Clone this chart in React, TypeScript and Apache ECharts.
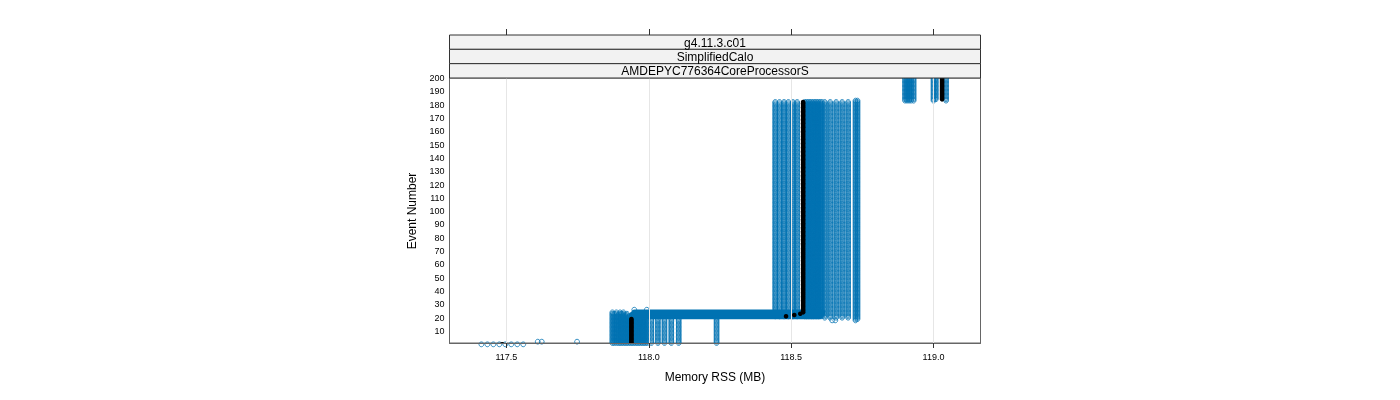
import React, { useEffect, useRef } from "react";
import * as echarts from "echarts";

// ---- axis / panel text ----
const xTicks = [117.5, 118.0, 118.5, 119.0];
const yTicks = [10, 20, 30, 40, 50, 60, 70, 80, 90, 100, 110, 120, 130, 140, 150, 160, 170, 180, 190, 200];
const stripLabels = ["g4.11.3.c01", "SimplifiedCalo", "AMDEPYC776364CoreProcessorS"];
const xTitle = "Memory RSS (MB)";
const yTitle = "Event Number";

// ---- data ----
// Each run: [memory RSS (MB), first event, last event] — constant memory over that event range
const lowRuns: [number, number, number][] = [
  [117.412, 0, 0], [117.433, 0, 0], [117.454, 0, 0], [117.475, 0, 0],
  [117.496, 0, 0], [117.517, 0, 0], [117.538, 0, 0], [117.559, 0, 0],
  [117.61, 2, 2], [117.624, 2, 2], [117.748, 2, 2],
];
const earlyRuns: [number, number, number][] = [
  [117.872, 1, 24], [117.878, 1, 23], [117.886, 1, 24], [117.893, 1, 22],
  [117.899, 1, 24], [117.905, 1, 23], [117.911, 1, 24], [117.917, 1, 22],
  [117.923, 1, 23], [117.929, 1, 21], [117.935, 1, 20], [117.941, 1, 20],
  [117.947, 1, 20], [117.953, 1, 20], [117.959, 1, 20], [117.965, 1, 20],
  [117.971, 1, 20], [117.977, 1, 20], [117.983, 1, 20], [117.989, 1, 20], [117.995, 1, 20],
  [118.009, 1, 19], [118.032, 1, 19], [118.055, 1, 19], [118.079, 1, 19], [118.105, 1, 19],
  [118.238, 1, 20],
  [117.949, 26, 26], [117.993, 26, 26],
];
const mainRuns: [number, number, number][] = [
  [118.444, 21, 182], [118.459, 21, 182], [118.475, 21, 182], [118.49, 21, 182],
  [118.506, 21, 182], [118.521, 21, 182],
  [118.548, 21, 182], [118.554, 21, 182], [118.56, 21, 182], [118.566, 21, 182],
  [118.572, 21, 182], [118.578, 21, 182], [118.584, 21, 182], [118.59, 21, 182],
  [118.596, 21, 182], [118.602, 21, 182], [118.608, 21, 182],
  [118.618, 20, 182], [118.637, 20, 182], [118.658, 20, 182], [118.679, 20, 182], [118.7, 20, 182],
  [118.726, 18, 183], [118.733, 19, 183],
  [118.644, 18, 18], [118.655, 18, 18],
];
const lateRuns: [number, number, number][] = [
  [118.9, 183, 200], [118.907, 183, 200], [118.914, 183, 200], [118.921, 183, 200], [118.93, 183, 200],
  [119.0, 183, 200], [119.008, 184, 200], [119.044, 183, 200],
];
// Horizontal band: [event, memory from, memory to]
const bandRows: [number, number, number][] = [
  [21, 117.94, 118.6], [22, 117.94, 118.605], [23, 117.945, 118.608], [24, 117.95, 118.61],
];
// Median memory per event (black): [memory, first event, last event]
const medianRuns: [number, number, number][] = [
  [117.485, 0, 0], [117.939, 1, 19], [118.482, 21, 21], [118.511, 22, 22],
  [118.532, 23, 23], [118.542, 24, 182], [119.03, 184, 200],
];

const BLUE = "#0072B2";
const FONT = "Liberation Sans, Arial, sans-serif";

const toPoints = (runs: [number, number, number][]) => {
  const pts: number[][] = [];
  for (const [x, a, b] of runs) for (let e = a; e <= b; e++) pts.push([x, e]);
  return pts;
};

export default function App() {
  const ref = useRef<HTMLDivElement>(null);
  useEffect(() => {
    if (!ref.current) return;
    const chart = echarts.init(ref.current, undefined, { renderer: "svg" });
    const L = 449.5, T = 78, W = 531, H = 265;
    const stripH = 14.33;
    const bluePts = toPoints([...lowRuns, ...earlyRuns, ...mainRuns, ...lateRuns]);
    const blackPts = toPoints(medianRuns);
    const graphic: any[] = [];
    stripLabels.forEach((s, i) => {
      const y = T - (3 - i) * stripH;
      graphic.push({
        type: "rect", z: 100, silent: true,
        shape: { x: L, y, width: W, height: stripH },
        style: { fill: "#f2f2f2", stroke: "#333", lineWidth: 1 },
      });
      graphic.push({
        type: "text", z: 101, silent: true, x: L + W / 2, y: y + stripH / 2 + 0.5,
        style: { text: s, fill: "#000", font: `12px ${FONT}`, align: "center", verticalAlign: "middle" },
      });
    });
    graphic.push({
      type: "text", z: 101, silent: true, x: L + W / 2, y: 377,
      style: { text: xTitle, fill: "#000", font: `12px ${FONT}`, align: "center", verticalAlign: "middle" },
    });
    graphic.push({
      type: "text", z: 101, silent: true, x: 412, y: 211, rotation: Math.PI / 2,
      style: { text: yTitle, fill: "#000", font: `12px ${FONT}`, align: "center", verticalAlign: "middle" },
    });

    const circleItem = (filled: boolean) => (_p: any, api: any) => {
      const p = api.coord([api.value(0), api.value(1)]);
      return {
        type: "circle",
        shape: { cx: p[0], cy: p[1], r: filled ? 2.3 : 2.4 },
        style: filled ? { fill: "#000" } : { fill: "none", stroke: BLUE, lineWidth: 0.8 },
      };
    };

    chart.setOption({
      animation: false,
      grid: { left: L, top: T, width: W, height: H, show: true, borderColor: "#666", borderWidth: 1, backgroundColor: "transparent" },
      xAxis: [
        {
          type: "value", min: 117.3, max: 119.165, z: 60,
          axisLine: { show: true, lineStyle: { color: "#666", width: 1 } },
          axisTick: { show: true, customValues: xTicks, length: 5, lineStyle: { color: "#333" } },
          axisLabel: { customValues: xTicks, formatter: (v: number) => v.toFixed(1), fontSize: 9, color: "#000", margin: 9, fontFamily: FONT },
          splitLine: { show: false },
        },
        {
          type: "value", min: 117.3, max: 119.165, position: "top", offset: 43, z: 60,
          axisLine: { show: false },
          axisTick: { show: true, customValues: xTicks, length: 6, lineStyle: { color: "#333" } },
          axisLabel: { show: false },
          splitLine: { show: false },
        },
      ],
      yAxis: {
        type: "value", min: 1, max: 200, z: 60,
        axisLine: { show: true, lineStyle: { color: "#666", width: 1 } },
        axisTick: { show: false },
        axisLabel: { customValues: yTicks, fontSize: 9, color: "#000", margin: 5, fontFamily: FONT },
        splitLine: { show: false },
      },
      graphic,
      series: [
        {
          type: "line", data: [], z: 1, silent: true,
          markLine: {
            silent: true, symbol: ["none", "none"], label: { show: false }, animation: false,
            lineStyle: { color: "#e6e6e6", type: "solid", width: 1 },
            data: xTicks.map((v) => ({ xAxis: v })),
          },
        },
        {
          type: "custom", data: bluePts, z: 2, silent: true, clip: true,
          lineStyle: { width: 0.2 },
          encode: { x: 0, y: 1 },
          renderItem: circleItem(false),
        },
        {
          type: "custom", data: bandRows, z: 3, silent: true, clip: true,
          lineStyle: { width: 0.2 },
          encode: { x: [1, 2], y: 0 },
          renderItem: (_p: any, api: any) => {
            const e = api.value(0), x0 = api.value(1), x1 = api.value(2);
            const p0 = api.coord([x0, e]);
            const p1 = api.coord([x1, e]);
            return {
              type: "line",
              shape: { x1: p0[0], y1: p0[1], x2: p1[0], y2: p1[1] },
              style: { stroke: BLUE, lineWidth: 5.6, lineCap: "round" },
            };
          },
        },
        {
          type: "custom", data: blackPts, z: 4, silent: true, clip: true,
          lineStyle: { width: 0.2 },
          encode: { x: 0, y: 1 },
          renderItem: circleItem(true),
        },
      ],
    });
    return () => chart.dispose();
  }, []);
  return <div ref={ref} style={{ position: "fixed", left: 0, top: 0, width: 1400, height: 400 }} />;
}
